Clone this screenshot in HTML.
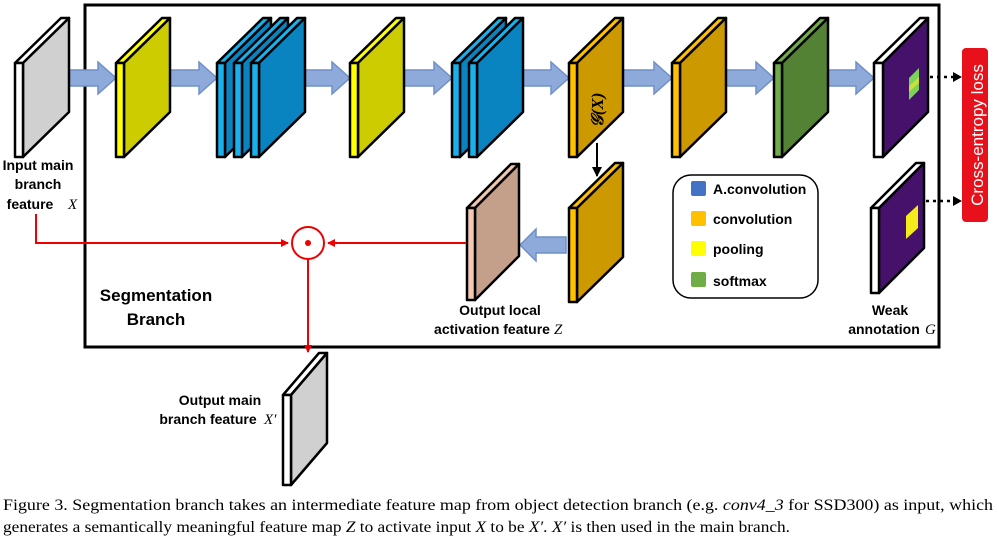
<!DOCTYPE html>
<html><head><meta charset="utf-8"><style>
body{margin:0;background:#fff;width:999px;height:544px;overflow:hidden}
svg{display:block}
.lb{font-family:"Liberation Sans",sans-serif;font-weight:bold;font-size:14px;fill:#000}
.cap{font-family:"Liberation Serif",serif;font-size:16px;fill:#000}
</style></head><body>
<svg width="999" height="544" viewBox="0 0 999 544" xmlns="http://www.w3.org/2000/svg">
<defs>
<marker id="ra" markerWidth="8" markerHeight="8" refX="7" refY="4" orient="auto" markerUnits="userSpaceOnUse"><path d="M0,0 L8,4 L0,8 z" fill="#e00"/></marker>
<marker id="ka" markerWidth="10" markerHeight="10" refX="9" refY="5" orient="auto" markerUnits="userSpaceOnUse"><path d="M0,0 L10,5 L0,10 z" fill="#000"/></marker>
</defs>
<rect x="85" y="5" width="854" height="342" fill="none" stroke="#000" stroke-width="3"/>
<g fill="#8eaadb" stroke="#6f8fc7" stroke-width="1.5">
<polygon points="68,70 98,70 98,62 116,78 98,94 98,86 68,86"/>
<polygon points="168,70 199,70 199,62 217,78 199,94 199,86 168,86"/>
<polygon points="304,70 332,70 332,62 350,78 332,94 332,86 304,86"/>
<polygon points="404,70 434,70 434,62 452,78 434,94 434,86 404,86"/>
<polygon points="523,70 551,70 551,62 569,78 551,94 551,86 523,86"/>
<polygon points="623,70 654,70 654,62 672,78 654,94 654,86 623,86"/>
<polygon points="726,70 756,70 756,62 774,78 756,94 756,86 726,86"/>
<polygon points="828,70 856,70 856,62 874,78 856,94 856,86 828,86"/>
<polygon points="566,237 536,237 536,229 520,245 536,261 536,253 566,253"/>
</g>
<g stroke="#000" stroke-width="2.5" stroke-linejoin="round">
<polygon points="15,63 61,18 69,18 23,63" fill="#fff"/><polygon points="23,63 69,18 69,112 23,157" fill="#d0d0d0"/><rect x="15" y="63" width="8" height="94" fill="#fff"/>
<polygon points="116,63 162,18 170,18 124,63" fill="#ffff00"/><polygon points="124,63 170,18 170,112 124,157" fill="#cccc00"/><rect x="116" y="63" width="8" height="94" fill="#ffff00"/>
<polygon points="217,63 263,18 271,18 225,63" fill="#19b0ec"/><polygon points="225,63 271,18 271,112 225,157" fill="#0a84c0"/><rect x="217" y="63" width="8" height="94" fill="#19b0ec"/>
<polygon points="234,63 280,18 288,18 242,63" fill="#19b0ec"/><polygon points="242,63 288,18 288,112 242,157" fill="#0a84c0"/><rect x="234" y="63" width="8" height="94" fill="#19b0ec"/>
<polygon points="251,63 297,18 305,18 259,63" fill="#19b0ec"/><polygon points="259,63 305,18 305,112 259,157" fill="#0a84c0"/><rect x="251" y="63" width="8" height="94" fill="#19b0ec"/>
<polygon points="350,63 396,18 404,18 358,63" fill="#ffff00"/><polygon points="358,63 404,18 404,112 358,157" fill="#cccc00"/><rect x="350" y="63" width="8" height="94" fill="#ffff00"/>
<polygon points="452,63 498,18 506,18 460,63" fill="#19b0ec"/><polygon points="460,63 506,18 506,112 460,157" fill="#0a84c0"/><rect x="452" y="63" width="8" height="94" fill="#19b0ec"/>
<polygon points="469,63 515,18 523,18 477,63" fill="#19b0ec"/><polygon points="477,63 523,18 523,112 477,157" fill="#0a84c0"/><rect x="469" y="63" width="8" height="94" fill="#19b0ec"/>
<polygon points="569,63 615,18 623,18 577,63" fill="#ffc000"/><polygon points="577,63 623,18 623,112 577,157" fill="#cc9900"/><rect x="569" y="63" width="8" height="94" fill="#ffc000"/>
<polygon points="672,63 718,18 726,18 680,63" fill="#ffc000"/><polygon points="680,63 726,18 726,112 680,157" fill="#cc9900"/><rect x="672" y="63" width="8" height="94" fill="#ffc000"/>
<polygon points="774,63 820,18 828,18 782,63" fill="#70ad47"/><polygon points="782,63 828,18 828,112 782,157" fill="#548235"/><rect x="774" y="63" width="8" height="94" fill="#70ad47"/>
<polygon points="874,63 920,18 928,18 883,63" fill="#fff"/><polygon points="883,63 928,18 928,112 883,157" fill="#46116a"/><rect x="874" y="63" width="9" height="94" fill="#fff"/>
<polygon points="871,208 916,163 924,163 879,208" fill="#fff"/><polygon points="879,208 924,163 924,248 879,293" fill="#46116a"/><rect x="871" y="208" width="8" height="85" fill="#fff"/>
<polygon points="569,208 615,163 623,163 577,208" fill="#ffc000"/><polygon points="577,208 623,163 623,257 577,302" fill="#cc9900"/><rect x="569" y="208" width="8" height="94" fill="#ffc000"/>
<polygon points="467,208 511,164 519,164 475,208" fill="#f2c9b0"/><polygon points="475,208 519,164 519,256 475,300" fill="#c4a08b"/><rect x="467" y="208" width="8" height="92" fill="#f2c9b0"/>
<polygon points="283,395 319,353 327,353 291,395" fill="#fff"/><polygon points="291,395 327,353 327,443 291,485" fill="#d0d0d0"/><rect x="283" y="395" width="8" height="90" fill="#fff"/>
</g>
<polygon points="909,78 919,68 919,90 909,100" fill="#7bd35a"/>
<polygon points="909,86 919,77 919,83 909,92" fill="#c8e03a"/>
<polygon points="906,216 918,205 918,228 906,239" fill="#f5ec1a"/>
<text transform="translate(603 110) rotate(-90)" text-anchor="middle" font-family="Liberation Serif,serif" font-style="italic" font-weight="bold" font-size="17">𝒢(X)</text>
<line x1="597" y1="143" x2="597" y2="176" stroke="#000" stroke-width="2" marker-end="url(#ka)"/>
<g stroke="#000" stroke-width="2.5" stroke-dasharray="3,4"><line x1="930" y1="77" x2="955" y2="77"/><line x1="926" y1="201" x2="955" y2="201"/></g>
<path d="M953,72 L962,77 L953,82 z M953,196 L962,201 L953,206 z"/>
<rect x="962" y="48" width="26" height="174" rx="4" fill="#e8101a"/>
<text transform="translate(983 135) rotate(-90)" text-anchor="middle" font-family="Liberation Sans,sans-serif" font-size="17" fill="#fff">Cross-entropy loss</text>
<rect x="673" y="175" width="145" height="123" rx="18" fill="#fff" stroke="#000" stroke-width="1.5"/>
<rect x="691" y="181" width="15" height="15" rx="2" fill="#4472c4"/>
<rect x="691" y="211" width="15" height="15" rx="2" fill="#ffc000"/>
<rect x="691" y="241" width="15" height="15" rx="2" fill="#ffff00"/>
<rect x="691" y="272" width="15" height="15" rx="2" fill="#70ad47"/>
<text class="lb" x="713" y="194">A.convolution</text>
<text class="lb" x="713" y="224">convolution</text>
<text class="lb" x="713" y="254">pooling</text>
<text class="lb" x="713" y="286">softmax</text>
<g fill="none" stroke="#e00" stroke-width="2">
<polyline points="36,214 36,243 288,243" marker-end="url(#ra)"/>
<line x1="466" y1="243" x2="328" y2="243" marker-end="url(#ra)"/>
<circle cx="308" cy="243" r="16"/>
<line x1="308" y1="259" x2="308" y2="352" marker-end="url(#ra)"/>
</g>
<circle cx="308" cy="243" r="3" fill="#e00"/>
<text class="lb" x="38" y="170" text-anchor="middle">Input main</text>
<text class="lb" x="38" y="189" text-anchor="middle">branch</text>
<text class="lb" x="30" y="209" text-anchor="middle">feature</text>
<text x="68" y="209" font-family="Liberation Serif,serif" font-style="italic" font-size="15">X</text>
<text x="156" y="301" text-anchor="middle" font-family="Liberation Sans,sans-serif" font-weight="bold" font-size="17">Segmentation</text>
<text x="156" y="325" text-anchor="middle" font-family="Liberation Sans,sans-serif" font-weight="bold" font-size="17">Branch</text>
<text class="lb" x="500" y="315" text-anchor="middle">Output local</text>
<text class="lb" x="492" y="334" text-anchor="middle">activation feature</text>
<text x="554" y="334" font-family="Liberation Serif,serif" font-style="italic" font-size="15">Z</text>
<text class="lb" x="890" y="315" text-anchor="middle">Weak</text>
<text class="lb" x="884" y="334" text-anchor="middle">annotation</text>
<text x="925" y="334" font-family="Liberation Serif,serif" font-style="italic" font-size="15">G</text>
<text class="lb" x="220" y="405" text-anchor="middle">Output main</text>
<text class="lb" x="208" y="424" text-anchor="middle">branch feature</text>
<text x="264" y="424" font-family="Liberation Serif,serif" font-style="italic" font-size="15">X′</text>
<text class="cap" x="3" y="510" textLength="990" lengthAdjust="spacingAndGlyphs">Figure 3. Segmentation branch takes an intermediate feature map from object detection branch (e.g. <tspan font-style="italic">conv4_3</tspan> for SSD300) as input, which</text>
<text class="cap" x="3" y="532" textLength="787" lengthAdjust="spacingAndGlyphs">generates a semantically meaningful feature map <tspan font-style="italic">Z</tspan> to activate input <tspan font-style="italic">X</tspan> to be <tspan font-style="italic">X′</tspan>. <tspan font-style="italic">X′</tspan> is then used in the main branch.</text>
</svg>
</body></html>
